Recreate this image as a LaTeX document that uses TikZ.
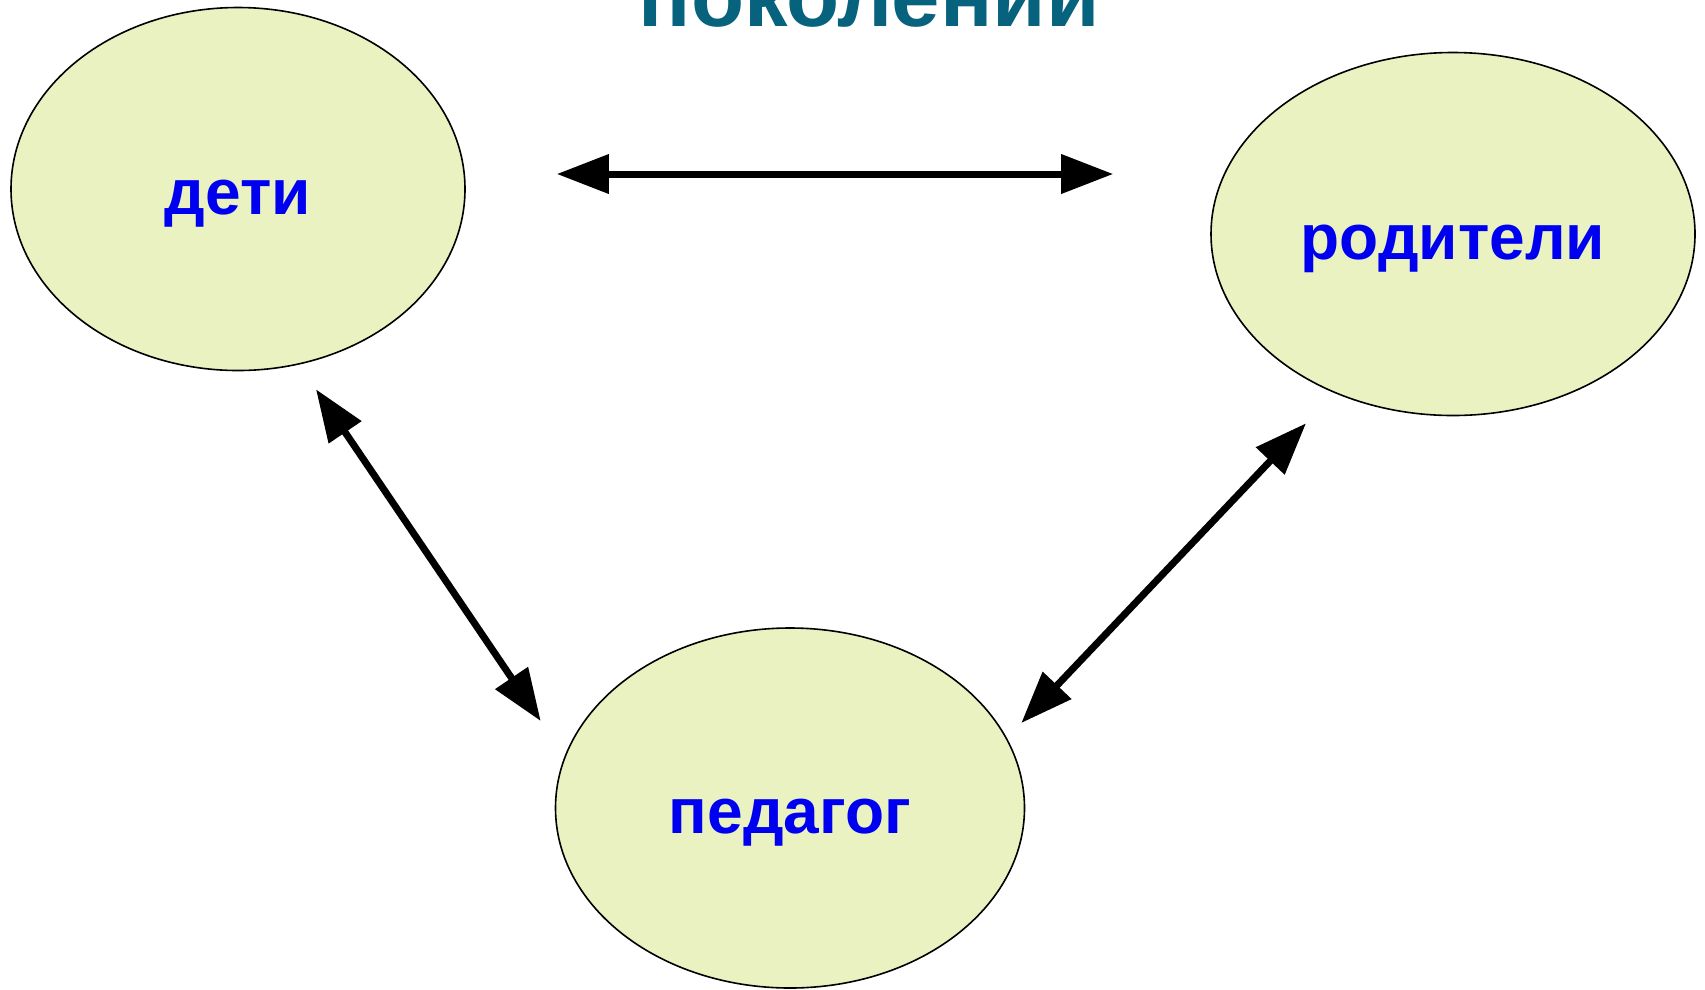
\documentclass[tikz,border=0pt]{standalone}
\usepackage{fontspec}
\setmainfont{Liberation Sans}
\usetikzlibrary{shapes.geometric,arrows.meta}

\definecolor{ovalfill}{RGB}{234,242,193}
\definecolor{titleteal}{RGB}{6,98,125}
\definecolor{labelblue}{RGB}{0,0,240}

\tikzset{
    oval/.style={ellipse, draw=black, line width=1.6pt, fill=ovalfill, inner sep=0pt,
        text=labelblue, font=\fontsize{64}{70}\selectfont\bfseries,
        text height=50pt, text depth=0pt},
    link/.style={line width=7pt, {Triangle[length=52pt,width=38pt]}-{Triangle[length=52pt,width=38pt]}}
}

\begin{document}
\begin{tikzpicture}[x=1pt, y=-1pt]
    \useasboundingbox (0,0) rectangle (1705,989);

    % title, cut off by the top edge
    \node[anchor=base, text=titleteal, font=\fontsize{87}{92}\selectfont\bfseries] (title) at (869,26) {поколений};

    % the three partners
    \node[oval, minimum width=454pt, minimum height=363pt] (deti) at (238,189) {дети};
    \node[oval, minimum width=484pt, minimum height=363pt] (roditeli) at (1453,234) {родители};
    \node[oval, minimum width=469pt, minimum height=360pt] (pedagog) at (790,808) {педагог};

    % arrow ends, kept off the ovals
    \coordinate (deti-r) at ([shift={(91,-15)}]deti.east);
    \coordinate (roditeli-l) at ([shift={(-97,-60)}]roditeli.west);
    \coordinate (deti-b) at ([shift={(78,18)}]deti.south);
    \coordinate (pedagog-l) at ([shift={(-14,-87)}]pedagog.west);
    \coordinate (roditeli-b) at ([shift={(-147,7)}]roditeli.south);
    \coordinate (pedagog-r) at ([shift={(-4,-85)}]pedagog.east);

    \draw[link] (deti-r) -- (roditeli-l);
    \draw[link] (deti-b) -- (pedagog-l);
    \draw[link] (roditeli-b) -- (pedagog-r);
\end{tikzpicture}
\end{document}
